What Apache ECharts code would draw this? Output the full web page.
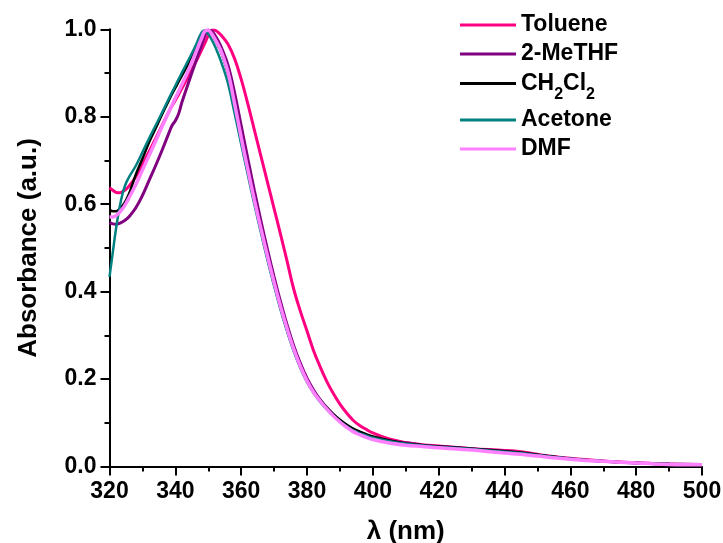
<!DOCTYPE html>
<html>
<head>
<meta charset="utf-8">
<script src="https://cdn.jsdelivr.net/npm/echarts@6/dist/echarts.min.js"></script>
<style>
  html, body { margin: 0; padding: 0; background: #fff; }
  #chart { width: 723px; height: 543px; }
</style>
</head>
<body>
<div id="chart"></div>
<script>
// Normalised UV-Vis absorption spectra in five solvents
const wavelength = [320,321,322,323,324,325,326,328,330,332,334,336,338,339,340,341,342,344,346,348,349,350,351,352,353,354,356,358,360,362,364,366,368,370,372,374,376,378,380,382,384,386,388,390,392,394,396,398,400,405,410,415,420,430,440,445,450,460,470,480,490,500];

const toluene = [0.638,0.632,0.627,0.626,0.629,0.634,0.642,0.663,0.691,0.720,0.750,0.781,0.811,0.825,0.838,0.851,0.865,0.893,0.922,0.953,0.969,0.986,0.998,0.998,0.993,0.986,0.966,0.933,0.886,0.830,0.770,0.710,0.650,0.590,0.530,0.468,0.405,0.355,0.310,0.265,0.228,0.195,0.167,0.143,0.123,0.106,0.094,0.085,0.077,0.063,0.055,0.050,0.047,0.041,0.037,0.034,0.028,0.019,0.013,0.009,0.006,0.005];

const meTHF = [0.558,0.555,0.554,0.556,0.560,0.565,0.572,0.592,0.620,0.654,0.688,0.724,0.762,0.780,0.791,0.807,0.833,0.878,0.922,0.965,0.986,0.998,0.996,0.987,0.974,0.958,0.918,0.855,0.780,0.705,0.632,0.562,0.496,0.434,0.376,0.323,0.276,0.236,0.202,0.175,0.153,0.135,0.119,0.105,0.094,0.085,0.078,0.072,0.067,0.059,0.054,0.049,0.046,0.041,0.035,0.031,0.026,0.018,0.012,0.008,0.006,0.005];

const dcm = [0.587,0.584,0.584,0.589,0.597,0.609,0.625,0.668,0.704,0.741,0.773,0.806,0.837,0.852,0.866,0.880,0.894,0.922,0.952,0.984,0.997,0.997,0.990,0.977,0.962,0.946,0.898,0.825,0.748,0.676,0.606,0.540,0.477,0.417,0.362,0.311,0.266,0.228,0.196,0.171,0.152,0.135,0.120,0.107,0.096,0.087,0.080,0.074,0.069,0.060,0.053,0.049,0.046,0.041,0.035,0.032,0.027,0.018,0.012,0.008,0.006,0.005];

const acetone = [0.434,0.490,0.545,0.590,0.625,0.648,0.663,0.688,0.719,0.750,0.780,0.810,0.841,0.856,0.871,0.886,0.901,0.930,0.960,0.993,0.997,0.989,0.977,0.962,0.944,0.924,0.876,0.808,0.738,0.668,0.600,0.535,0.472,0.413,0.358,0.308,0.263,0.225,0.193,0.168,0.148,0.131,0.116,0.103,0.092,0.083,0.076,0.071,0.066,0.058,0.052,0.048,0.045,0.040,0.034,0.031,0.026,0.018,0.012,0.008,0.006,0.005];

const dmf = [0.571,0.571,0.574,0.581,0.590,0.602,0.616,0.645,0.678,0.711,0.744,0.778,0.811,0.827,0.843,0.858,0.874,0.907,0.943,0.980,0.996,0.998,0.990,0.978,0.964,0.948,0.902,0.830,0.753,0.680,0.610,0.544,0.481,0.421,0.365,0.314,0.268,0.229,0.196,0.170,0.150,0.132,0.116,0.102,0.090,0.080,0.073,0.067,0.062,0.054,0.049,0.046,0.043,0.038,0.031,0.028,0.024,0.017,0.012,0.008,0.005,0.004];

const seriesNames = ['Toluene', '2-MeTHF', 'CH2Cl2', 'Acetone', 'DMF'];
const seriesValues = [toluene, meTHF, dcm, acetone, dmf];
const seriesColors = ['#FF0080', '#800080', '#000000', '#008080', '#FF80FF'];
const seriesWidths = [3, 3, 2.5, 2.5, 3.5];

const xTicks = { min: 320, max: 500, step: 20 };
const yTicks = { min: 0, max: 1.0, step: 0.2 };

const FONT = "'Liberation Sans', Arial, sans-serif";

const pairs = vals => wavelength.map((w, i) => [w, vals[i]]);

const series = seriesNames.map((name, i) => ({
  name: name,
  type: 'line',
  data: pairs(seriesValues[i]),
  smooth: 0.4,
  symbol: 'none',
  lineStyle: { color: seriesColors[i], width: seriesWidths[i] },
  itemStyle: { color: seriesColors[i] },
  z: 2 + i
}));

// one legend block per entry, stacked in the upper-right corner
const legendCenters = [25, 54, 83, 120, 149];
const legends = seriesNames.map((name, i) => {
  const isDcm = name === 'CH2Cl2';
  const h = isDcm ? 37 : 24;
  return {
    data: [name],
    left: 460,
    top: legendCenters[i] - h / 2,
    orient: 'vertical',
    padding: 0,
    icon: 'rect',
    itemWidth: 56,
    itemHeight: 3,
    selectedMode: false,
    formatter: isDcm ? () => '{b|CH}{s|2}{b|Cl}{s|2}' : undefined,
    textStyle: {
      fontFamily: FONT,
      fontWeight: 'bold',
      fontSize: 23,
      lineHeight: 24,
      color: '#000',
      rich: {
        b: { fontFamily: FONT, fontWeight: 'bold', fontSize: 23, lineHeight: 24, color: '#000' },
        s: { fontFamily: FONT, fontWeight: 'bold', fontSize: 16, lineHeight: 15, padding: [22, 0, 0, 0], color: '#000' }
      }
    }
  };
});

const axisCommon = {
  axisLine: { show: true, lineStyle: { color: '#000', width: 2 } },
  axisTick: { show: true, inside: false, length: 9, lineStyle: { color: '#000', width: 2 } },
  minorTick: { show: true, splitNumber: 2, length: 5, lineStyle: { color: '#000', width: 2 } },
  splitLine: { show: false },
  nameTextStyle: { fontFamily: FONT, fontWeight: 'bold', fontSize: 26, color: '#000' }
};

const chart = echarts.init(document.getElementById('chart'), null, { renderer: 'canvas' });
chart.setOption({
  backgroundColor: '#fff',
  animation: false,
  grid: { left: 109.5, right: 21, top: 29.3, bottom: 76.4, outerBoundsMode: 'none', containLabel: false },
  legend: legends,
  xAxis: Object.assign({}, axisCommon, {
    type: 'value',
    min: xTicks.min, max: xTicks.max, interval: xTicks.step,
    name: 'λ (nm)',
    nameLocation: 'middle',
    nameGap: 52,
    axisLabel: { fontFamily: FONT, fontWeight: 'bold', fontSize: 23, color: '#000', margin: 14 }
  }),
  yAxis: Object.assign({}, axisCommon, {
    type: 'value',
    min: yTicks.min, max: yTicks.max, interval: yTicks.step,
    name: 'Absorbance (a.u.)',
    nameLocation: 'middle',
    nameGap: 68,
    axisLabel: {
      fontFamily: FONT, fontWeight: 'bold', fontSize: 23, color: '#000', margin: 13,
      formatter: v => v.toFixed(1)
    }
  }),
  series: series
});
</script>
</body>
</html>
